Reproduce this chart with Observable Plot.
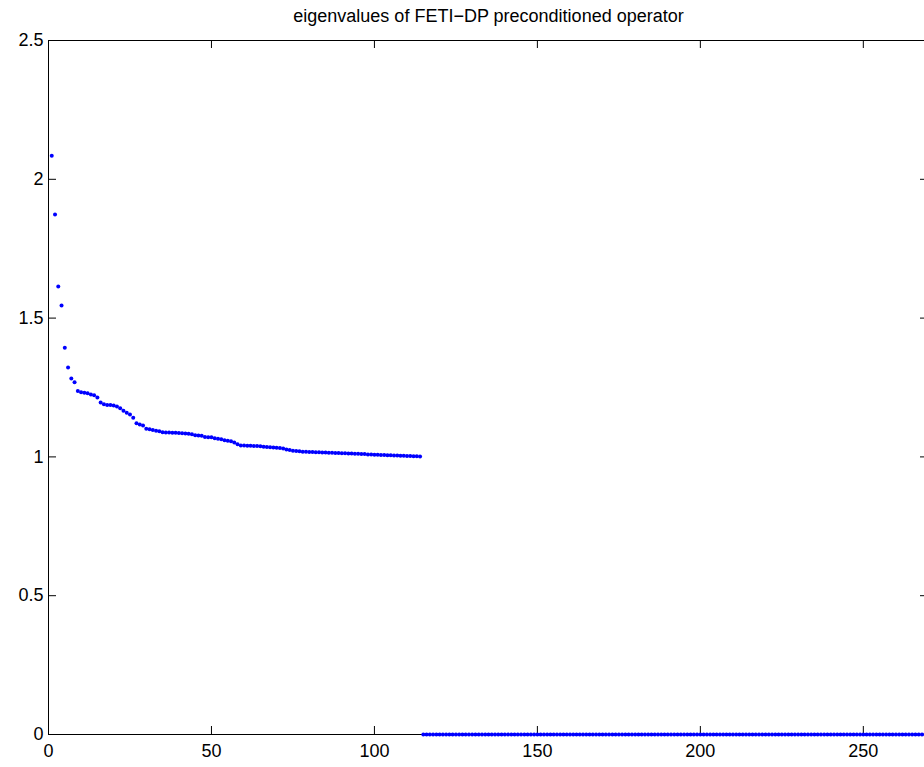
<!DOCTYPE html>
<html><head><meta charset="utf-8">
<script src="https://cdn.jsdelivr.net/npm/d3@7"></script>
<script src="https://cdn.jsdelivr.net/npm/@observablehq/plot@0.6"></script>
<style>html,body{margin:0;padding:0;overflow:hidden;background:#fff} svg{max-width:none !important}</style>
</head><body><div id="chart"></div>
<script>
// Nonzero eigenvalues (sorted descending), indices 1..114
const eigenvalues = [
  2.085, 1.873, 1.614, 1.545, 1.393, 1.322, 1.282, 1.269, 1.237, 1.233,
  1.231, 1.229, 1.225, 1.222, 1.214, 1.196, 1.190, 1.187, 1.187, 1.185,
  1.182, 1.175, 1.166, 1.159, 1.153, 1.141, 1.121, 1.117, 1.113, 1.101,
  1.100, 1.097, 1.094, 1.092, 1.089, 1.088, 1.088, 1.087, 1.087, 1.086,
  1.085, 1.084, 1.083, 1.082, 1.078, 1.077, 1.076, 1.072, 1.071, 1.071,
  1.067, 1.065, 1.064, 1.060, 1.058, 1.056, 1.052, 1.046, 1.041, 1.041,
  1.040, 1.040, 1.039, 1.039, 1.038, 1.037, 1.036, 1.035, 1.034, 1.033,
  1.032, 1.030, 1.027, 1.025, 1.022, 1.021, 1.020, 1.019, 1.019, 1.018,
  1.018, 1.017, 1.017, 1.016, 1.016, 1.015, 1.015, 1.014, 1.014, 1.013,
  1.013, 1.012, 1.012, 1.011, 1.011, 1.010, 1.010, 1.009, 1.009, 1.008,
  1.008, 1.007, 1.007, 1.006, 1.006, 1.005, 1.005, 1.004, 1.004, 1.003,
  1.003, 1.002, 1.002, 1.001
];
// Remaining eigenvalues are all zero (indices 115..270)
const zeroEigenvalueCount = 156;
const zeroEigenvalue = 0;
const xDomain = [0, 270];
const yDomain = [0, 2.5];
const xTicks = [0, 50, 100, 150, 200, 250];
const yTicks = [0, 0.5, 1, 1.5, 2, 2.5];
const title = "eigenvalues of FETI\u2212DP preconditioned operator";

const data = eigenvalues.map((v, i) => ({index: i + 1, value: v}))
  .concat(Array.from({length: zeroEigenvalueCount}, (_, k) => ({index: eigenvalues.length + 1 + k, value: zeroEigenvalue})));

const W = 932, H = 767, mL = 48, mR = 4, mT = 40, mB = 33;
const plotW = W - mL - mR, plotH = H - mT - mB;
const tick = 8;
const fmt = d => String(d);

const chart = Plot.plot({
  width: W, height: H,
  marginLeft: mL, marginRight: mR, marginTop: mT, marginBottom: mB,
  style: {fontFamily: "'Liberation Sans', Arial, Helvetica, sans-serif", fontSize: "18px", background: "#fff", color: "#000", overflow: "visible", maxWidth: "none"},
  x: {domain: xDomain},
  y: {domain: yDomain},
  marks: [
    Plot.frame({stroke: "#000", strokeWidth: 1}),
    Plot.ruleX(xTicks, {x: d => d, insetTop: plotH - tick, stroke: "#000"}),
    Plot.ruleX(xTicks, {x: d => d, insetBottom: plotH - tick, stroke: "#000"}),
    Plot.ruleY(yTicks, {y: d => d, insetRight: plotW - tick, stroke: "#000"}),
    Plot.ruleY(yTicks, {y: d => d, insetLeft: plotW - tick, stroke: "#000"}),
    Plot.axisX(xTicks, {tickSize: 0, tickPadding: 10, fontSize: 18, label: null, tickFormat: fmt}),
    Plot.axisY(yTicks, {tickSize: 0, tickPadding: 5, fontSize: 18, label: null, tickFormat: fmt}),
    Plot.dot(data, {x: "index", y: "value", r: 2, fill: "#0000ff", stroke: null}),
    Plot.text([title], {frameAnchor: "top", dy: -19, lineAnchor: "bottom", fontSize: 18, fill: "#000"})
  ]
});
document.getElementById("chart").appendChild(chart);
</script>
</body></html>
